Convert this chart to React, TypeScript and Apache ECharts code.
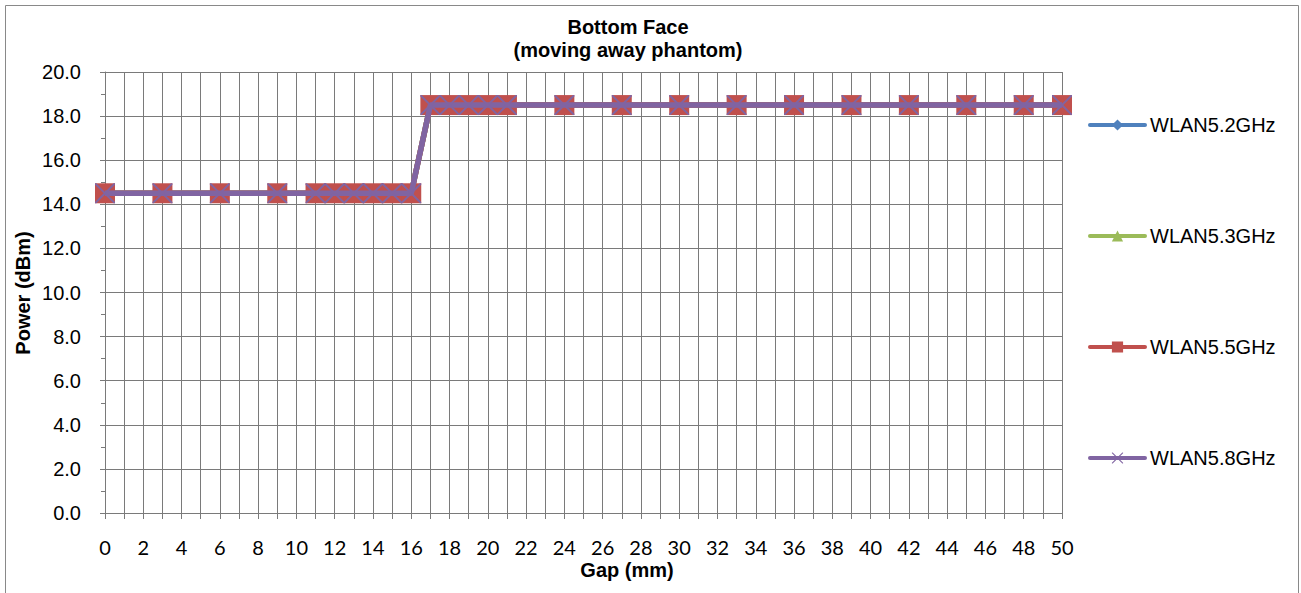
import React, { useEffect, useRef } from "react";
import * as echarts from "echarts";

const gaps = [0, 3, 6, 9, 11, 12, 13, 14, 15, 16, 17, 18, 19, 20, 21, 24, 27, 30, 33, 36, 39, 42, 45, 48, 50];
const wlan52 = [14.5, 14.5, 14.5, 14.5, 14.5, 14.5, 14.5, 14.5, 14.5, 14.5, 18.5, 18.5, 18.5, 18.5, 18.5, 18.5, 18.5, 18.5, 18.5, 18.5, 18.5, 18.5, 18.5, 18.5, 18.5];
const wlan53 = [14.5, 14.5, 14.5, 14.5, 14.5, 14.5, 14.5, 14.5, 14.5, 14.5, 18.5, 18.5, 18.5, 18.5, 18.5, 18.5, 18.5, 18.5, 18.5, 18.5, 18.5, 18.5, 18.5, 18.5, 18.5];
const wlan55 = [14.5, 14.5, 14.5, 14.5, 14.5, 14.5, 14.5, 14.5, 14.5, 14.5, 18.5, 18.5, 18.5, 18.5, 18.5, 18.5, 18.5, 18.5, 18.5, 18.5, 18.5, 18.5, 18.5, 18.5, 18.5];
const wlan58 = [14.5, 14.5, 14.5, 14.5, 14.5, 14.5, 14.5, 14.5, 14.5, 14.5, 18.5, 18.5, 18.5, 18.5, 18.5, 18.5, 18.5, 18.5, 18.5, 18.5, 18.5, 18.5, 18.5, 18.5, 18.5];
const seriesNames = ["WLAN5.2GHz", "WLAN5.3GHz", "WLAN5.5GHz", "WLAN5.8GHz"];
const seriesValues = [wlan52, wlan53, wlan55, wlan58];
const seriesColors = ["#4F81BD", "#9BBB59", "#C0504D", "#8064A2"];
const crossPath =
  "path://M0,0 L1.4,0 L10,8.6 L18.6,0 L20,0 L20,1.4 L11.4,10 L20,18.6 L20,20 L18.6,20 L10,11.4 L1.4,20 L0,20 L0,18.6 L8.6,10 L0,1.4 Z";
const seriesSymbols = ["diamond", "triangle", "rect", crossPath];
const seriesSymbolSizes = [12, 12, 20, 20];

const GRID = "#7a7a7a";
const FONT = "Liberation Sans";

export default function App() {
  const ref = useRef<HTMLDivElement>(null);
  useEffect(() => {
    document.body.style.margin = "0";
    const chart = echarts.init(ref.current!, null, { renderer: "svg" });
    const series = seriesNames.map((name, k) => ({
      name,
      type: "line",
      data: gaps.map((g, i) => [g, seriesValues[k][i]]),
      symbol: seriesSymbols[k],
      symbolSize: seriesSymbolSizes[k],
      showAllSymbol: true,
      lineStyle: { color: seriesColors[k], width: 5.5 },
      itemStyle: { color: seriesColors[k] },
      z: 2 + k,
    }));
    chart.setOption({
      animation: false,
      backgroundColor: "#ffffff",
      textStyle: { fontFamily: FONT },
      title: {
        text: "Bottom Face\n(moving away phantom)",
        left: 623,
        top: 10,
        textAlign: "center",
        textStyle: { fontSize: 20, fontWeight: "bold", color: "#000", lineHeight: 23, fontFamily: FONT },
      },
      legend: {
        orient: "vertical",
        left: 1083,
        top: 109,
        itemWidth: 55,
        itemHeight: 14,
        itemGap: 89,
        lineStyle: { width: 4, cap: "round" },
        textStyle: { fontSize: 20, color: "#000", fontFamily: FONT, lineHeight: 22 },
        data: seriesNames,
      },
      graphic: [
        {
          type: "rect",
          shape: { x: 5.5, y: 5.5, width: 1293, height: 600 },
          style: { fill: "none", stroke: "#898989", lineWidth: 1 },
          silent: true,
        },
        {
          type: "text",
          x: 627,
          y: 570,
          style: { text: "Gap (mm)", fontSize: 20, fontWeight: "bold", fill: "#000", align: "center", verticalAlign: "middle", fontFamily: FONT },
        },
        {
          type: "text",
          x: 23,
          y: 293,
          rotation: Math.PI / 2,
          style: { text: "Power (dBm)", fontSize: 20, fontWeight: "bold", fill: "#000", align: "center", verticalAlign: "middle", fontFamily: FONT },
        },
      ],
      grid: { left: 105, right: 239, top: 72, bottom: 80, containLabel: false },
      xAxis: {
        type: "value",
        min: 0,
        max: 50,
        interval: 2,
        axisLine: { show: true, lineStyle: { color: GRID, width: 1 } },
        axisTick: { show: true, length: 6, lineStyle: { color: GRID } },
        minorTick: { show: true, splitNumber: 2, length: 6, lineStyle: { color: GRID } },
        splitLine: { show: true, lineStyle: { color: GRID, width: 1 } },
        minorSplitLine: { show: true, lineStyle: { color: GRID, width: 1 } },
        axisLabel: { fontSize: 20, color: "#000", margin: 24, fontFamily: "Lato" },
      },
      yAxis: {
        type: "value",
        min: 0,
        max: 20,
        interval: 2,
        axisLine: { show: true, lineStyle: { color: GRID, width: 1 } },
        axisTick: { show: true, length: 5, lineStyle: { color: GRID } },
        minorTick: { show: true, splitNumber: 2, length: 4, lineStyle: { color: GRID } },
        splitLine: { show: true, lineStyle: { color: GRID, width: 1 } },
        axisLabel: { fontSize: 20, color: "#000", margin: 24, formatter: (v: number) => v.toFixed(1), fontFamily: FONT },
      },
      series,
    });
    return () => chart.dispose();
  }, []);
  return <div ref={ref} style={{ width: 1301, height: 593 }} />;
}
